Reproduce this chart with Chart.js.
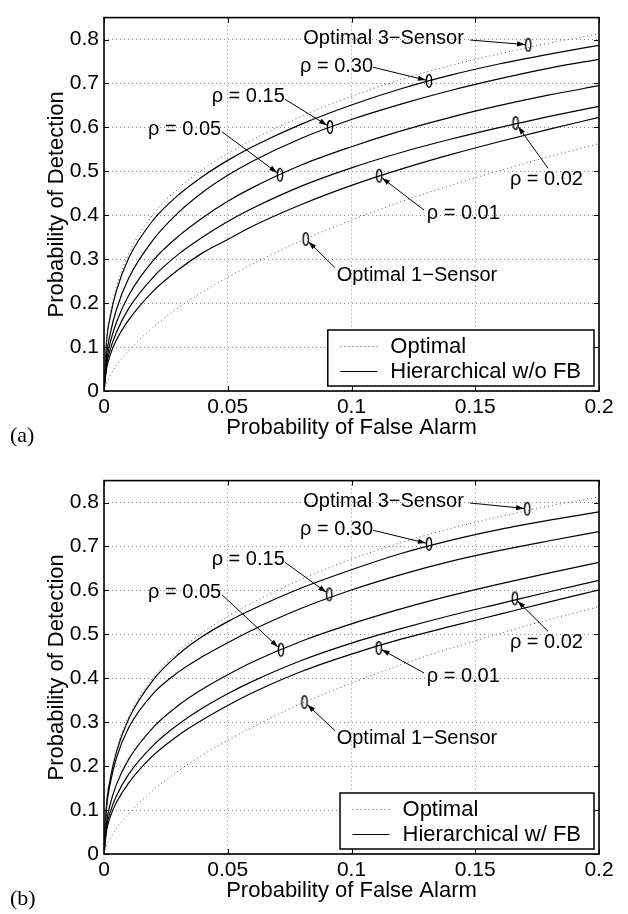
<!DOCTYPE html>
<html>
<head>
<meta charset="utf-8">
<script src="https://cdn.jsdelivr.net/npm/chart.js@4.4.0/dist/chart.umd.min.js"></script>
<style>
  html, body { margin: 0; padding: 0; background: #fff; overflow: hidden; }
  .panel { position: absolute; left: 0; width: 628px; height: 451px; }
  .tag { position: absolute; left: 10px; font: 22px "Liberation Serif", "Times New Roman", serif; line-height: 22px; }
</style>
</head>
<body>
<div class="panel" style="top:0"><canvas id="chartA" width="628" height="451"></canvas></div>
<div class="tag" style="top:424px">(a)</div>
<div class="panel" style="top:463px"><canvas id="chartB" width="628" height="451"></canvas></div>
<div class="tag" style="top:887px">(b)</div>
<script>
// probability of false alarm grid shared by all curves
const pfGrid = [0, 0.001, 0.0025, 0.005, 0.01, 0.02, 0.03, 0.04, 0.05, 0.06, 0.08, 0.10, 0.12, 0.14, 0.16, 0.18, 0.20];

// optimal curves (same in both panels)
const opt3 = [0, 0.115, 0.175, 0.237, 0.313, 0.403, 0.461, 0.505, 0.541, 0.572, 0.626, 0.671, 0.709, 0.741, 0.768, 0.792, 0.813];
const opt1 = [0, 0.018, 0.035, 0.058, 0.092, 0.146, 0.189, 0.226, 0.259, 0.289, 0.343, 0.389, 0.431, 0.468, 0.502, 0.534, 0.563];

// (a) hierarchical w/o feedback
const rho30A = [0, 0.110, 0.168, 0.228, 0.303, 0.390, 0.446, 0.489, 0.525, 0.556, 0.608, 0.651, 0.688, 0.719, 0.745, 0.767, 0.787];
const rho15A = [0, 0.080, 0.130, 0.185, 0.257, 0.345, 0.406, 0.453, 0.491, 0.523, 0.576, 0.618, 0.653, 0.684, 0.711, 0.735, 0.755];
const rho05A = [0, 0.067, 0.110, 0.156, 0.218, 0.298, 0.352, 0.395, 0.432, 0.463, 0.515, 0.556, 0.592, 0.623, 0.650, 0.674, 0.695];
const rho02A = [0, 0.058, 0.094, 0.133, 0.188, 0.260, 0.311, 0.351, 0.386, 0.416, 0.467, 0.508, 0.543, 0.573, 0.600, 0.625, 0.648];
const rho01A = [0, 0.050, 0.082, 0.116, 0.162, 0.228, 0.276, 0.315, 0.345, 0.375, 0.425, 0.468, 0.505, 0.538, 0.568, 0.596, 0.623];

// (b) hierarchical w/ feedback
const rho30B = [0, 0.110, 0.170, 0.232, 0.308, 0.397, 0.454, 0.496, 0.529, 0.557, 0.606, 0.647, 0.684, 0.714, 0.739, 0.760, 0.779];
const rho15B = [0, 0.103, 0.160, 0.218, 0.288, 0.366, 0.414, 0.450, 0.481, 0.510, 0.560, 0.601, 0.636, 0.666, 0.691, 0.713, 0.734];
const rho05B = [0, 0.070, 0.113, 0.158, 0.216, 0.289, 0.338, 0.376, 0.408, 0.437, 0.485, 0.524, 0.558, 0.588, 0.615, 0.640, 0.664];
const rho02B = [0, 0.059, 0.095, 0.132, 0.182, 0.248, 0.295, 0.333, 0.365, 0.393, 0.441, 0.480, 0.513, 0.543, 0.570, 0.597, 0.623];
const rho01B = [0, 0.052, 0.084, 0.117, 0.162, 0.225, 0.270, 0.306, 0.338, 0.367, 0.416, 0.455, 0.489, 0.518, 0.546, 0.574, 0.601];

// annotations: 3-sensor, 0.30, 0.15, 0.05, 0.02, 0.01, 1-sensor
const annoText = ['Optimal 3\u2212Sensor', '\u03c1 = 0.30', '\u03c1 = 0.15', '\u03c1 = 0.05', '\u03c1 = 0.02', '\u03c1 = 0.01', 'Optimal 1\u2212Sensor'];
const annoX = [0.0805, 0.0792, 0.0435, 0.0178, 0.164, 0.1304, 0.094];
const annoY = [0.803, 0.738, 0.671, 0.596, 0.481, 0.403, 0.264];
const tailX = [0.1479, 0.1087, 0.0731, 0.0477, 0.1794, 0.1293, 0.0933];
const tailY = [0.799, 0.737, 0.664, 0.590, 0.507, 0.412, 0.281];
const markXA = [0.1714, 0.1313, 0.0913, 0.0711, 0.1663, 0.1112, 0.0815];
const markYA = [0.788, 0.706, 0.601, 0.492, 0.610, 0.490, 0.346];
const markXB = [0.171, 0.1313, 0.091, 0.0715, 0.166, 0.111, 0.081];
const markYB = [0.786, 0.706, 0.591, 0.465, 0.582, 0.469, 0.346];

const FONT = '"Liberation Sans", Arial, Helvetica, sans-serif';
Chart.defaults.font.family = FONT;
Chart.defaults.color = '#000';

const RX = 2.6, RY = 6.2;
function ellipseMark() {
  const c = document.createElement('canvas');
  c.width = 10; c.height = 16;
  const g = c.getContext('2d');
  g.strokeStyle = '#000';
  g.lineWidth = 1.4;
  g.beginPath();
  g.ellipse(5, 8, RX, RY, 0, 0, Math.PI * 2);
  g.stroke();
  return c;
}
const markImg = ellipseMark();

function toPts(ys) {
  return pfGrid.map((x, i) => ({ x: x, y: ys[i] }));
}

function drawArrow(ctx, x0, y0, x1, y1) {
  const ang = Math.atan2(y1 - y0, x1 - x0);
  const len = 8, wid = 2.6;
  ctx.beginPath();
  ctx.moveTo(x0, y0);
  ctx.lineTo(x1, y1);
  ctx.stroke();
  ctx.beginPath();
  ctx.moveTo(x1, y1);
  ctx.lineTo(x1 - len * Math.cos(ang) + wid * Math.sin(ang), y1 - len * Math.sin(ang) - wid * Math.cos(ang));
  ctx.lineTo(x1 - len * Math.cos(ang) - wid * Math.sin(ang), y1 - len * Math.sin(ang) + wid * Math.cos(ang));
  ctx.closePath();
  ctx.fill();
}

// frame, inward ticks, arrows, labels and legend box
const extras = {
  id: 'extras',
  afterDatasetsDraw(chart, args, opts) {
    const { ctx, chartArea: a, scales: { x, y } } = chart;
    ctx.save();
    ctx.strokeStyle = '#000';
    ctx.fillStyle = '#000';

    // inward ticks
    ctx.lineWidth = 1;
    ctx.beginPath();
    x.ticks.forEach(t => {
      const px = Math.round(x.getPixelForValue(t.value)) + 0.5;
      ctx.moveTo(px, a.bottom); ctx.lineTo(px, a.bottom - 5);
      ctx.moveTo(px, a.top); ctx.lineTo(px, a.top + 5);
    });
    y.ticks.forEach(t => {
      const py = Math.round(y.getPixelForValue(t.value)) + 0.5;
      ctx.moveTo(a.left, py); ctx.lineTo(a.left + 5, py);
      ctx.moveTo(a.right, py); ctx.lineTo(a.right - 5, py);
    });
    ctx.stroke();

    // arrows from labels to markers
    const mx = opts.markX, my = opts.markY;
    ctx.lineWidth = 1;
    for (let i = 0; i < annoText.length; i++) {
      const cx = x.getPixelForValue(mx[i]), cy = y.getPixelForValue(my[i]);
      const tx = x.getPixelForValue(tailX[i]), ty = y.getPixelForValue(tailY[i]);
      let dx = tx - cx, dy = ty - cy;
      const d = Math.hypot(dx, dy);
      dx /= d; dy /= d;
      const r = 1 / Math.sqrt((dx / RX) ** 2 + (dy / RY) ** 2);
      drawArrow(ctx, tx, ty, cx + dx * (r + 0.5), cy + dy * (r + 0.5));
    }

    // label text
    ctx.font = '20px ' + FONT;
    ctx.textAlign = 'left';
    ctx.textBaseline = 'middle';
    for (let i = 0; i < annoText.length; i++) {
      ctx.fillText(annoText[i], x.getPixelForValue(annoX[i]), y.getPixelForValue(annoY[i]));
    }

    // legend
    ctx.font = '22px ' + FONT;
    const w1 = ctx.measureText('Optimal').width;
    const w2 = ctx.measureText(opts.legendLabel).width;
    const bw = 62.5 + Math.max(w1, w2) + 13;
    const bh = 56;
    const bx = a.right - 5 - bw, by = a.bottom - 5 - bh;
    ctx.fillStyle = '#fff';
    ctx.fillRect(bx, by, bw, bh);
    ctx.fillStyle = '#000';
    ctx.lineWidth = 1.5;
    ctx.strokeRect(bx, by, bw, bh);
    ctx.lineWidth = 1;
    ctx.strokeStyle = '#666';
    ctx.setLineDash([1, 3]);
    ctx.beginPath();
    ctx.moveTo(bx + 12.5, by + 16.5); ctx.lineTo(bx + 49.5, by + 16.5);
    ctx.stroke();
    ctx.setLineDash([]);
    ctx.strokeStyle = '#000';
    ctx.beginPath();
    ctx.moveTo(bx + 12.5, by + 41.5); ctx.lineTo(bx + 49.5, by + 41.5);
    ctx.stroke();
    ctx.fillText('Optimal', bx + 62.5, by + 16.5);
    ctx.fillText(opts.legendLabel, bx + 62.5, by + 41.5);

    // axes box
    ctx.lineWidth = 1.6;
    ctx.strokeRect(a.left, a.top, a.right - a.left, a.bottom - a.top);
    ctx.restore();
  }
};

function makeChart(id, curves, markX, markY, legendLabel) {
  const dotted = { borderColor: '#555', borderWidth: 1, borderDash: [1, 3] };
  const solid = { borderColor: '#000', borderWidth: 1.2 };
  const datasets = [];
  [opt3, opt1].forEach(c => datasets.push(Object.assign({ data: toPts(c), showLine: true, pointRadius: 0, cubicInterpolationMode: 'monotone' }, dotted)));
  curves.forEach(c => datasets.push(Object.assign({ data: toPts(c), showLine: true, pointRadius: 0, cubicInterpolationMode: 'monotone' }, solid)));
  datasets.push({
    data: markX.map((v, i) => ({ x: v, y: markY[i] })),
    showLine: false,
    pointStyle: markImg,
    pointRadius: 6
  });

  return new Chart(document.getElementById(id), {
    type: 'scatter',
    data: { datasets: datasets },
    options: {
      responsive: false,
      animation: false,
      events: [],
      layout: { padding: { top: 3, right: 29, left: 0, bottom: 0 } },
      plugins: {
        legend: { display: false },
        tooltip: { enabled: false },
        extras: { markX: markX, markY: markY, legendLabel: legendLabel }
      },
      scales: {
        x: {
          type: 'linear', min: 0, max: 0.2,
          afterFit: s => { s.height = 60; },
          ticks: { stepSize: 0.05, padding: 4, font: { size: 21 }, color: '#000', callback: v => String(+v.toFixed(2)) },
          grid: { color: '#888', lineWidth: 1, drawTicks: false },
          border: { display: false, dash: [1, 3] },
          title: { display: true, text: 'Probability of False Alarm', font: { size: 22 }, color: '#000', padding: { top: 0, bottom: 10 } }
        },
        y: {
          type: 'linear', min: 0, max: 0.85,
          afterFit: s => { s.width = 104; },
          ticks: { stepSize: 0.1, includeBounds: false, padding: 5, font: { size: 21 }, color: '#000', callback: v => String(+v.toFixed(2)) },
          grid: { color: '#888', lineWidth: 1, drawTicks: false },
          border: { display: false, dash: [1, 3] },
          title: { display: true, text: 'Probability of Detection', font: { size: 22 }, color: '#000', padding: { top: 44, bottom: 0 } }
        }
      }
    },
    plugins: [extras]
  });
}

makeChart('chartA', [rho30A, rho15A, rho05A, rho02A, rho01A], markXA, markYA, 'Hierarchical w/o FB');
makeChart('chartB', [rho30B, rho15B, rho05B, rho02B, rho01B], markXB, markYB, 'Hierarchical w/ FB');
</script>
</body>
</html>
